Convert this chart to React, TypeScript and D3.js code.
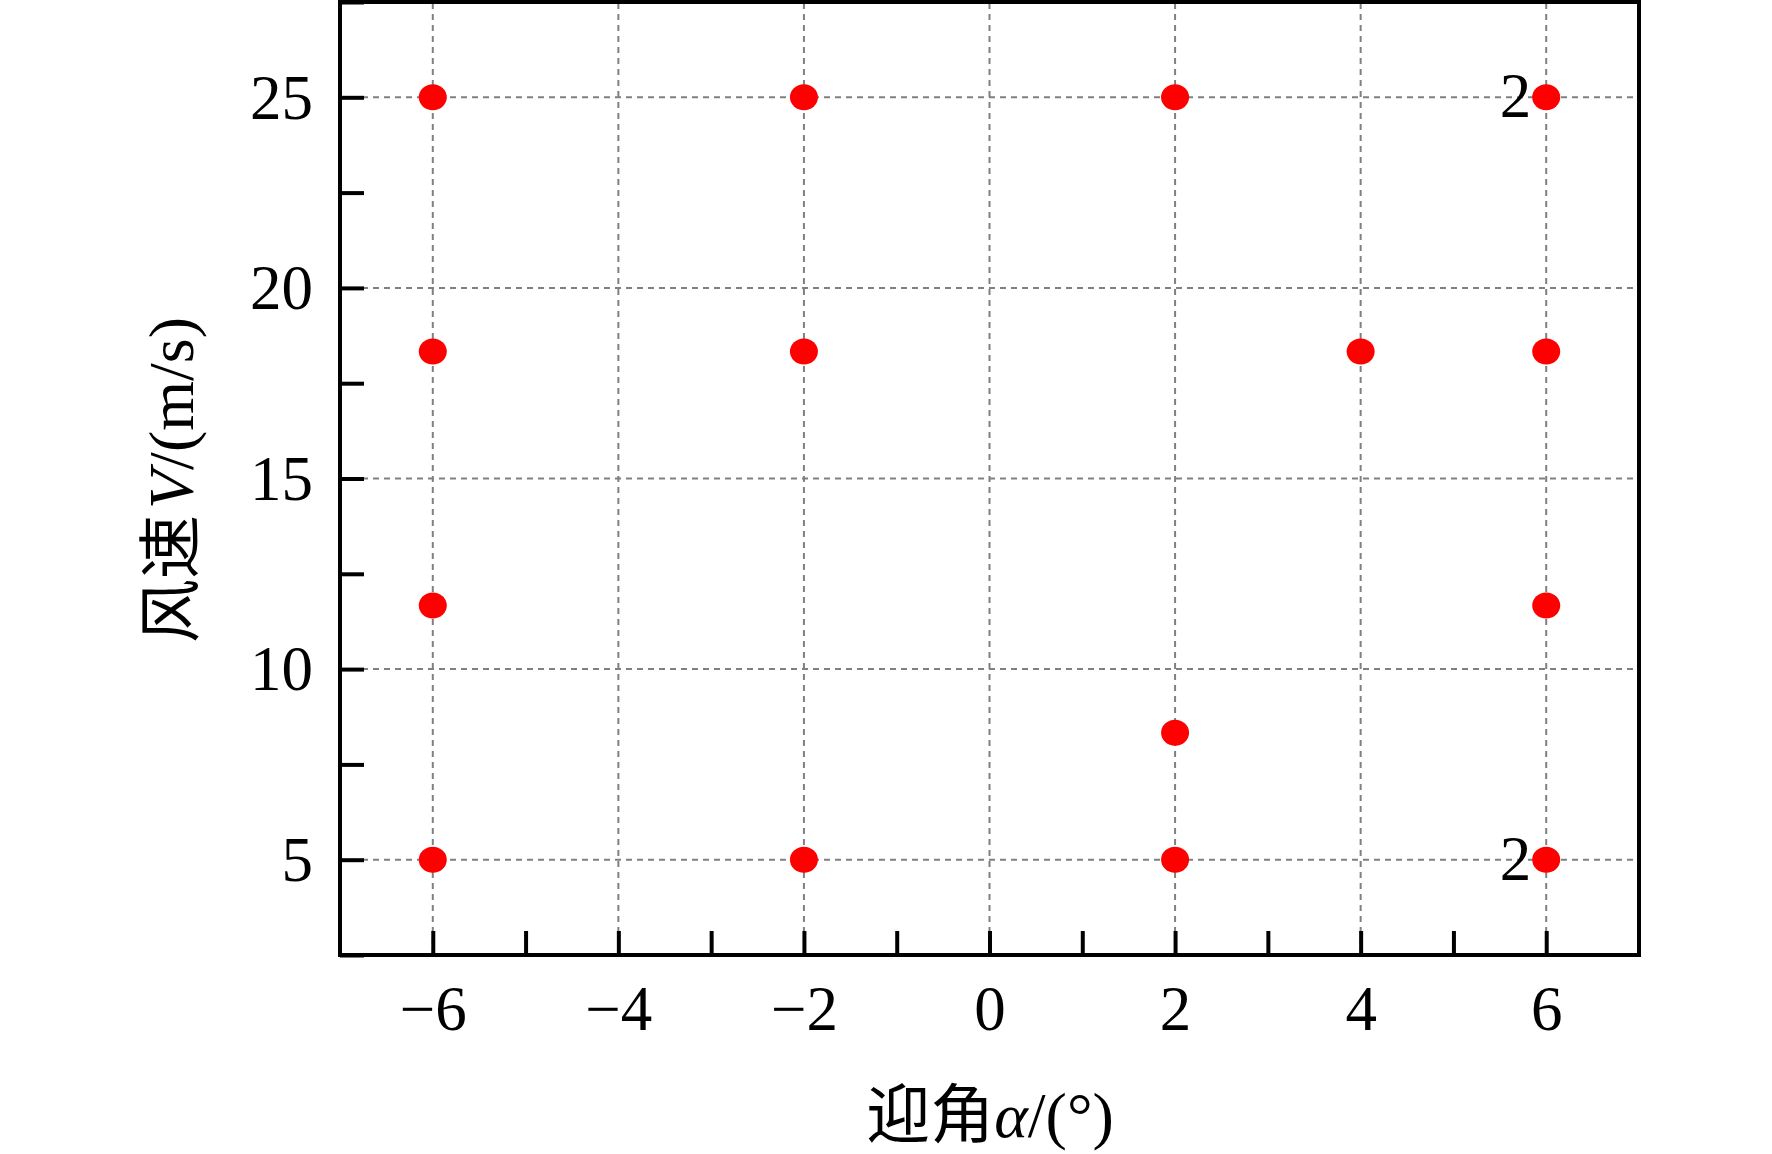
import React, { useEffect, useRef } from "react";
import * as d3 from "d3";

// angle of attack (deg) and wind speed (m/s) of each test case
const ANGLES = [-6, -6, -6, -6, -2, -2, -2, 2, 2, 2, 4, 6, 6, 6, 6];
const SPEEDS = [25, 18.33, 11.67, 5, 25, 18.33, 5, 25, 8.33, 5, 18.33, 25, 18.33, 11.67, 5];
// cases run twice, marked with "2"
const REPEATS = [
  { angle: 6, speed: 25, label: "2" },
  { angle: 6, speed: 5, label: "2" },
];

const X_TICKS = [-6, -4, -2, 0, 2, 4, 6];
const X_MINOR = [-5, -3, -1, 1, 3, 5];
const Y_TICKS = [5, 10, 15, 20, 25];
const Y_MINOR = [2.5, 7.5, 12.5, 17.5, 22.5, 27.5];

const W = 1772;
const H = 1154;
const SERIF = "'Liberation Serif', 'Times New Roman', 'Noto Sans CJK SC', serif";

export default function App() {
  const ref = useRef<SVGSVGElement>(null);

  useEffect(() => {
    if (!ref.current) return;
    const svg = d3.select(ref.current);
    svg.selectAll("*").remove();

    const x = d3.scaleLinear().domain([-7, 7]).range([340, 1639]);
    const y = d3.scaleLinear().domain([2.5, 27.5]).range([955, 2]);
    const tickLen = 24;

    // grid
    const grid = svg.append("g").attr("stroke", "#808080").attr("stroke-width", 2).attr("stroke-dasharray", "6,5");
    grid
      .selectAll("line.gx")
      .data(X_TICKS)
      .enter()
      .append("line")
      .attr("x1", (d) => x(d))
      .attr("x2", (d) => x(d))
      .attr("y1", y(2.5))
      .attr("y2", y(27.5));
    grid
      .selectAll("line.gy")
      .data(Y_TICKS)
      .enter()
      .append("line")
      .attr("x1", x(-7))
      .attr("x2", x(7))
      .attr("y1", (d) => y(d))
      .attr("y2", (d) => y(d));

    // x axis
    const xAxis = svg
      .append("g")
      .attr("transform", `translate(0,${y(2.5)})`)
      .call(d3.axisBottom(x).tickValues(X_TICKS).tickSize(-tickLen).tickPadding(30).tickSizeOuter(0));
    svg
      .append("g")
      .attr("transform", `translate(0,${y(2.5)})`)
      .call(d3.axisBottom(x).tickValues(X_MINOR).tickSize(-tickLen).tickFormat(() => "").tickSizeOuter(0))
      .select(".domain")
      .remove();

    // y axis
    const yAxis = svg
      .append("g")
      .attr("transform", `translate(${x(-7)},0)`)
      .call(d3.axisLeft(y).tickValues(Y_TICKS).tickSize(-tickLen).tickPadding(27).tickSizeOuter(0));
    svg
      .append("g")
      .attr("transform", `translate(${x(-7)},0)`)
      .call(d3.axisLeft(y).tickValues(Y_MINOR).tickSize(-tickLen).tickFormat(() => "").tickSizeOuter(0))
      .select(".domain")
      .remove();

    svg.selectAll(".tick line").attr("stroke", "#000").attr("stroke-width", 4);
    svg.selectAll(".domain").remove();
    [xAxis, yAxis].forEach((g) =>
      g.attr("font-family", SERIF).attr("font-size", 63).selectAll("text").attr("fill", "#000"),
    );
    yAxis.selectAll("text").attr("dy", "0.33em");

    // frame
    svg
      .append("rect")
      .attr("x", x(-7))
      .attr("y", y(27.5))
      .attr("width", x(7) - x(-7))
      .attr("height", y(2.5) - y(27.5))
      .attr("fill", "none")
      .attr("stroke", "#000")
      .attr("stroke-width", 4);

    // repeat labels
    svg
      .selectAll("text.rep")
      .data(REPEATS)
      .enter()
      .append("text")
      .attr("x", (d) => x(d.angle) - 15)
      .attr("y", (d) => y(d.speed) + 20)
      .attr("text-anchor", "end")
      .attr("font-family", SERIF)
      .attr("font-size", 63)
      .text((d) => d.label);

    // points
    svg
      .selectAll("circle")
      .data(ANGLES.map((a, i) => ({ a, v: SPEEDS[i] })))
      .enter()
      .append("ellipse")
      .attr("cx", (d) => x(d.a))
      .attr("cy", (d) => y(d.v))
      .attr("rx", 14)
      .attr("ry", 13)
      .attr("fill", "#ff0000");

    // axis titles
    const xt = svg
      .append("text")
      .attr("x", 990)
      .attr("y", 1137)
      .attr("text-anchor", "middle")
      .attr("font-family", SERIF)
      .attr("font-size", 64);
    xt.append("tspan").text("迎角");
    xt.append("tspan").attr("font-style", "italic").text("α");
    xt.append("tspan").text("/(°)");

    const yt = svg
      .append("text")
      .attr("transform", "translate(193,480) rotate(-90)")
      .attr("text-anchor", "middle")
      .attr("font-family", SERIF)
      .attr("font-size", 64);
    yt.append("tspan").text("风速");
    yt.append("tspan").attr("dx", 6).attr("font-style", "italic").text("V");
    yt.append("tspan").text("/(m/s)");
  }, []);

  return (
    <svg
      ref={ref}
      width={W}
      height={H}
      style={{ position: "absolute", left: 0, top: 0, background: "#fff" }}
    ></svg>
  );
}
